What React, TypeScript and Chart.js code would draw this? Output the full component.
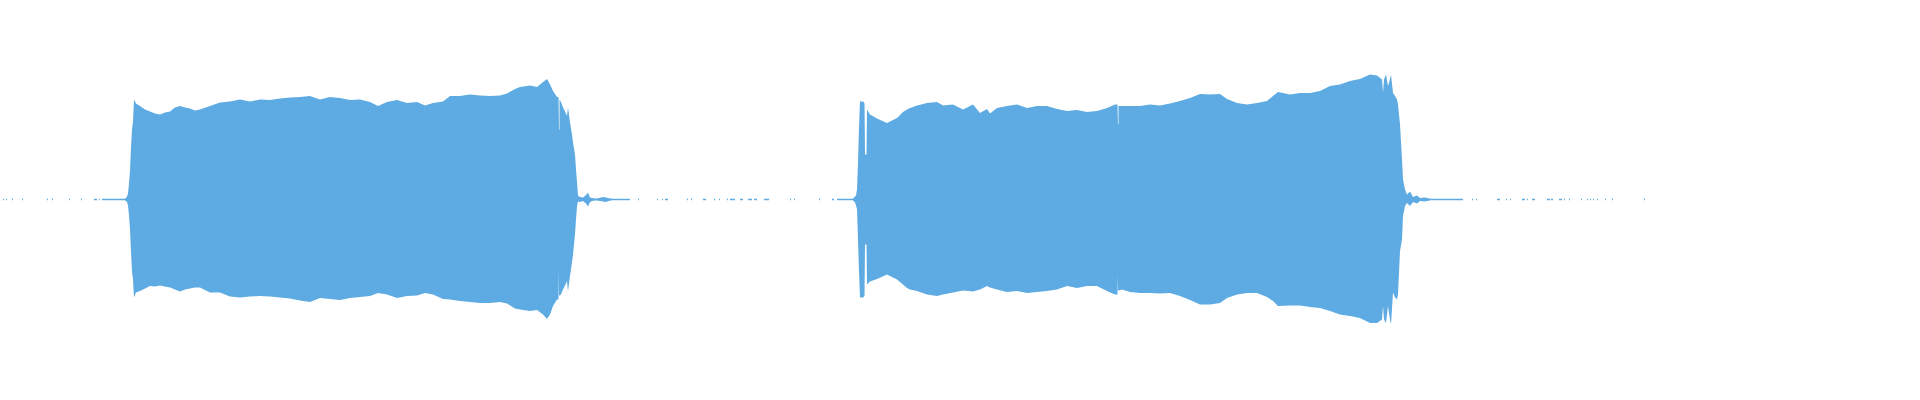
import { useEffect, useRef } from "react";
import { Chart, registerables } from "chart.js";

Chart.register(...registerables);

const WAVE_COLOR = "#5DABE2";

// time in seconds
const envelopeTime = [
  0.0, 1.24, 1.26, 1.27, 1.28, 1.29, 1.3, 1.31, 1.32, 1.33, 1.34, 1.36, 1.4, 1.45, 1.5, 1.55, 1.6, 1.65, 1.7, 1.75,
  1.8, 1.85, 1.9, 1.95, 2.0, 2.1, 2.2, 2.3, 2.4, 2.5, 2.6, 2.7, 2.8, 2.9, 3.0, 3.1, 3.2, 3.3, 3.4, 3.5,
  3.6, 3.7, 3.78, 3.87, 3.97, 4.07, 4.17, 4.25, 4.33, 4.43, 4.5, 4.6, 4.7, 4.8, 4.9, 5.0, 5.07, 5.15, 5.2, 5.3,
  5.37, 5.43, 5.47, 5.5, 5.53, 5.57, 5.585, 5.59, 5.595, 5.61, 5.63, 5.65, 5.67, 5.68, 5.7, 5.72, 5.73, 5.75, 5.76, 5.77,
  5.78, 5.8, 5.83, 5.86, 5.88, 5.9, 5.93, 5.96, 6.03, 6.06, 6.1, 6.15,
  8.5, 8.53, 8.55, 8.56, 8.57, 8.58, 8.59, 8.6, 8.63, 8.64, 8.645, 8.65, 8.665, 8.67, 8.7, 8.77, 8.87, 8.93, 8.97, 9.03,
  9.07, 9.1, 9.17, 9.27, 9.37, 9.43, 9.53, 9.63, 9.73, 9.8, 9.87, 9.9, 9.97, 10.07, 10.17, 10.27, 10.37, 10.47, 10.57, 10.67,
  10.77, 10.87, 10.97, 11.07, 11.15, 11.175, 11.18, 11.185, 11.22, 11.3, 11.4, 11.5, 11.6, 11.7, 11.8, 11.9, 12.0, 12.1, 12.2, 12.27,
  12.37, 12.47, 12.57, 12.67, 12.73, 12.78, 12.9, 13.0, 13.1, 13.2, 13.3, 13.4, 13.5, 13.6, 13.7, 13.77, 13.82, 13.83, 13.84, 13.86,
  13.88, 13.9, 13.91, 13.93, 13.95, 13.97, 13.98, 14.0, 14.02, 14.03, 14.05, 14.07, 14.1, 14.13, 14.17, 14.2, 14.25, 14.3, 14.33, 19.2,
];

const envelopeTop = [
  0, 0, 0.008, 0.015, 0.03, 0.08, 0.145, 0.26, 0.35, 0.39, 0.5, 0.48, 0.467, 0.45, 0.44, 0.43, 0.425, 0.435, 0.44, 0.46,
  0.467, 0.46, 0.455, 0.445, 0.45, 0.467, 0.485, 0.49, 0.5, 0.49, 0.5, 0.497, 0.505, 0.51, 0.512, 0.518, 0.5, 0.513, 0.508, 0.497,
  0.5, 0.487, 0.467, 0.487, 0.497, 0.483, 0.487, 0.47, 0.483, 0.49, 0.517, 0.517, 0.525, 0.52, 0.517, 0.52, 0.53, 0.553, 0.563, 0.57,
  0.563, 0.587, 0.603, 0.575, 0.542, 0.513, 0.513, 0.35, 0.5, 0.487, 0.46, 0.44, 0.417, 0.46, 0.385, 0.325, 0.285, 0.225, 0.15, 0.09,
  0.02, 0.012, 0.01, 0.022, 0.035, 0.01, 0.006, 0.004, 0.012, 0.01, 0.005, 0,
  0, 0.004, 0.015, 0.02, 0.05, 0.185, 0.36, 0.49, 0.49, 0.485, 0.48, 0.225, 0.225, 0.45, 0.425, 0.405, 0.383, 0.397, 0.408, 0.437,
  0.45, 0.458, 0.47, 0.483, 0.487, 0.47, 0.475, 0.45, 0.475, 0.433, 0.453, 0.43, 0.458, 0.467, 0.475, 0.458, 0.467, 0.467, 0.453, 0.442,
  0.447, 0.437, 0.442, 0.458, 0.475, 0.475, 0.375, 0.467, 0.467, 0.467, 0.467, 0.475, 0.47, 0.48, 0.492, 0.508, 0.528, 0.525, 0.528, 0.503,
  0.483, 0.475, 0.483, 0.492, 0.517, 0.537, 0.525, 0.533, 0.533, 0.542, 0.567, 0.575, 0.592, 0.603, 0.625, 0.62, 0.6, 0.535, 0.6, 0.625,
  0.567, 0.6, 0.625, 0.533, 0.517, 0.5, 0.475, 0.375, 0.2, 0.1, 0.05, 0.025, 0.04, 0.012, 0.02, 0.008, 0.01, 0.004, 0, 0,
];

const envelopeBottom = [
  0, 0, -0.008, -0.012, -0.03, -0.08, -0.15, -0.26, -0.36, -0.4, -0.49, -0.465, -0.458, -0.445, -0.433, -0.435, -0.43, -0.435, -0.44, -0.45,
  -0.46, -0.45, -0.445, -0.44, -0.44, -0.465, -0.465, -0.485, -0.49, -0.485, -0.483, -0.485, -0.49, -0.495, -0.505, -0.513, -0.492, -0.497, -0.503, -0.492,
  -0.487, -0.483, -0.467, -0.475, -0.492, -0.483, -0.48, -0.467, -0.475, -0.497, -0.5, -0.508, -0.513, -0.517, -0.517, -0.513, -0.52, -0.545, -0.55, -0.557,
  -0.553, -0.575, -0.597, -0.575, -0.533, -0.5, -0.5, -0.35, -0.48, -0.475, -0.45, -0.43, -0.408, -0.458, -0.383, -0.315, -0.275, -0.175, -0.1, -0.033,
  -0.01, -0.012, -0.008, -0.02, -0.035, -0.012, -0.006, -0.004, -0.01, -0.012, -0.005, 0,
  0, -0.004, -0.015, -0.03, -0.05, -0.2, -0.36, -0.49, -0.49, -0.485, -0.48, -0.225, -0.225, -0.425, -0.41, -0.397, -0.375, -0.39, -0.4, -0.425,
  -0.442, -0.45, -0.458, -0.475, -0.483, -0.475, -0.465, -0.455, -0.46, -0.45, -0.433, -0.44, -0.45, -0.463, -0.458, -0.467, -0.463, -0.458, -0.45, -0.433,
  -0.442, -0.433, -0.433, -0.458, -0.475, -0.475, -0.375, -0.455, -0.45, -0.463, -0.467, -0.467, -0.47, -0.467, -0.483, -0.503, -0.525, -0.525, -0.517, -0.492,
  -0.475, -0.467, -0.467, -0.487, -0.508, -0.533, -0.53, -0.53, -0.537, -0.542, -0.558, -0.575, -0.583, -0.592, -0.617, -0.617, -0.6, -0.533, -0.6, -0.617,
  -0.533, -0.6, -0.625, -0.465, -0.49, -0.5, -0.475, -0.258, -0.2, -0.083, -0.033, -0.017, -0.033, -0.012, -0.02, -0.008, -0.01, -0.004, 0, 0,
];

// near-silent stretches: start / end times (s)
const quietStart = [
  0.03, 0.06, 0.12, 0.22, 0.47, 0.52, 0.69, 0.81, 0.94, 0.99, 1.02,
  5.78, 6.38, 6.57, 6.62, 6.65, 6.87, 6.91, 7.03, 7.14, 7.19, 7.27, 7.3, 7.4, 7.48, 7.54, 7.64, 7.9, 7.94, 8.19, 8.32, 8.37,
  14.03, 14.72, 14.76, 14.97, 15.06, 15.1, 15.22, 15.27, 15.32, 15.47, 15.51, 15.59, 15.64, 15.69, 15.81, 15.87, 15.9, 15.93, 15.97, 16.05, 16.12, 16.44,
];
const quietEnd = [
  0.04, 0.07, 0.13, 0.23, 0.48, 0.53, 0.7, 0.82, 0.97, 1.0, 1.27,
  6.3, 6.39, 6.58, 6.63, 6.68, 6.88, 6.92, 7.06, 7.15, 7.2, 7.28, 7.35, 7.43, 7.52, 7.57, 7.69, 7.91, 7.95, 8.2, 8.34, 8.55,
  14.63, 14.73, 14.77, 15.0, 15.07, 15.11, 15.25, 15.28, 15.35, 15.5, 15.53, 15.62, 15.65, 15.7, 15.82, 15.88, 15.91, 15.94, 15.98, 16.06, 16.13, 16.45,
];

const DURATION = 19.2;

export default function App() {
  const ref = useRef<HTMLCanvasElement>(null);

  useEffect(() => {
    document.body.style.margin = "0";
    const canvas = ref.current;
    if (!canvas) return;

    const topData = envelopeTime.map((t, i) => ({ x: t, y: envelopeTop[i] }));
    const bottomData = envelopeTime.map((t, i) => ({ x: t, y: envelopeBottom[i] }));
    const quietData: { x: number; y: number | null }[] = [];
    quietStart.forEach((s, i) => {
      quietData.push({ x: s, y: 0 });
      quietData.push({ x: quietEnd[i], y: 0 });
      quietData.push({ x: quietEnd[i], y: null });
    });

    const chart = new Chart(canvas, {
      type: "line",
      data: {
        datasets: [
          {
            label: "peak",
            data: topData,
            fill: "+1",
            backgroundColor: WAVE_COLOR,
            borderColor: "rgba(0,0,0,0)",
            borderWidth: 0,
            pointRadius: 0,
            tension: 0,
          },
          {
            label: "trough",
            data: bottomData,
            fill: false,
            backgroundColor: WAVE_COLOR,
            borderColor: "rgba(0,0,0,0)",
            borderWidth: 0,
            pointRadius: 0,
            tension: 0,
          },
          {
            label: "quiet",
            data: quietData,
            fill: false,
            borderColor: WAVE_COLOR,
            borderWidth: 1.5,
            pointRadius: 0,
            spanGaps: false,
            tension: 0,
          },
        ],
      },
      options: {
        animation: false,
        responsive: false,
        maintainAspectRatio: false,
        events: [],
        layout: { padding: 0 },
        plugins: { legend: { display: false }, tooltip: { enabled: false } },
        scales: {
          x: { type: "linear", min: 0, max: DURATION, display: false },
          y: { min: -1.0025, max: 0.9975, display: false },
        },
      },
    });
    return () => chart.destroy();
  }, []);

  return (
    <div style={{ width: 1920, height: 400 }}>
      <canvas ref={ref} width={1920} height={400} style={{ display: "block" }} />
    </div>
  );
}
